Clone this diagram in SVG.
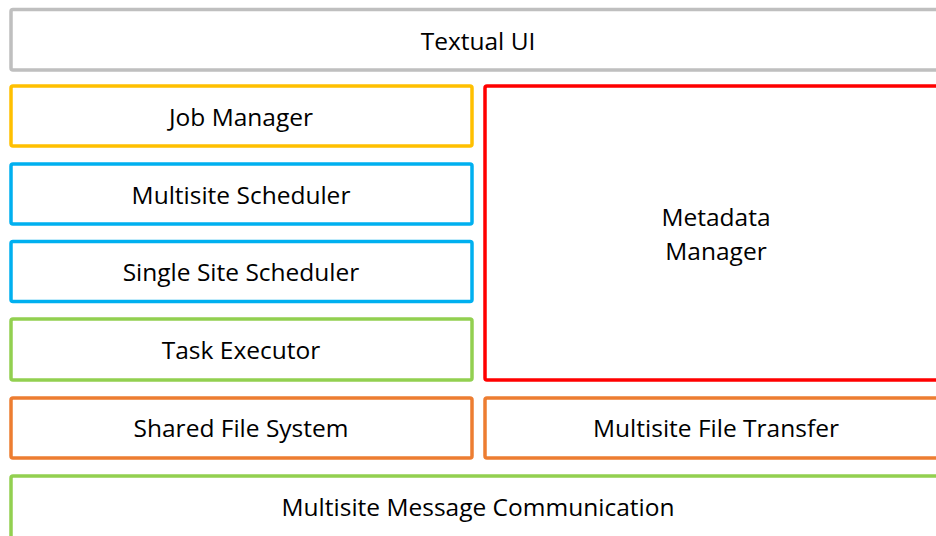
<svg xmlns="http://www.w3.org/2000/svg" width="936" height="536" viewBox="0 0 936 536">
<style>
rect{fill:#fff;stroke-width:3.5}
text{font-family:"Open Sans","Liberation Sans",sans-serif;font-size:24.5px;fill:#000;text-anchor:middle;dominant-baseline:central}
.gray{stroke:#BFBFBF}.yel{stroke:#FFC000}.blue{stroke:#00B0F0}.grn{stroke:#92D050}.red{stroke:#FF0000}.org{stroke:#ED7D31}
</style>
<rect width="936" height="536" fill="#fff" stroke="none"/>
<g id="textual-ui"><rect class="gray" x="11" y="9.5" width="935" height="60.5" rx="2"/><text x="478" y="40">Textual UI</text></g>
<g id="job-manager"><rect class="yel" x="11" y="86" width="461" height="60" rx="2"/><text x="241" y="116">Job Manager</text></g>
<g id="multisite-scheduler"><rect class="blue" x="11" y="164" width="461" height="60" rx="2"/><text x="241" y="194">Multisite Scheduler</text></g>
<g id="single-site-scheduler"><rect class="blue" x="11" y="241.5" width="461" height="60" rx="2"/><text x="241" y="271">Single Site Scheduler</text></g>
<g id="task-executor"><rect class="grn" x="11" y="319" width="461" height="61" rx="2"/><text x="241" y="349">Task Executor</text></g>
<g id="metadata-manager"><rect class="red" x="485" y="86" width="462" height="294" rx="2"/><text x="716" y="216">Metadata</text><text x="716" y="250">Manager</text></g>
<g id="shared-file-system"><rect class="org" x="11" y="398" width="461" height="60" rx="2"/><text x="241" y="427">Shared File System</text></g>
<g id="multisite-file-transfer"><rect class="org" x="485" y="398" width="462" height="60" rx="2"/><text x="716" y="427">Multisite File Transfer</text></g>
<g id="multisite-message-communication"><rect class="grn" x="11" y="476" width="935" height="62" rx="2"/><text x="478" y="506">Multisite Message Communication</text></g>
<g id="connectors"></g>
</svg>
